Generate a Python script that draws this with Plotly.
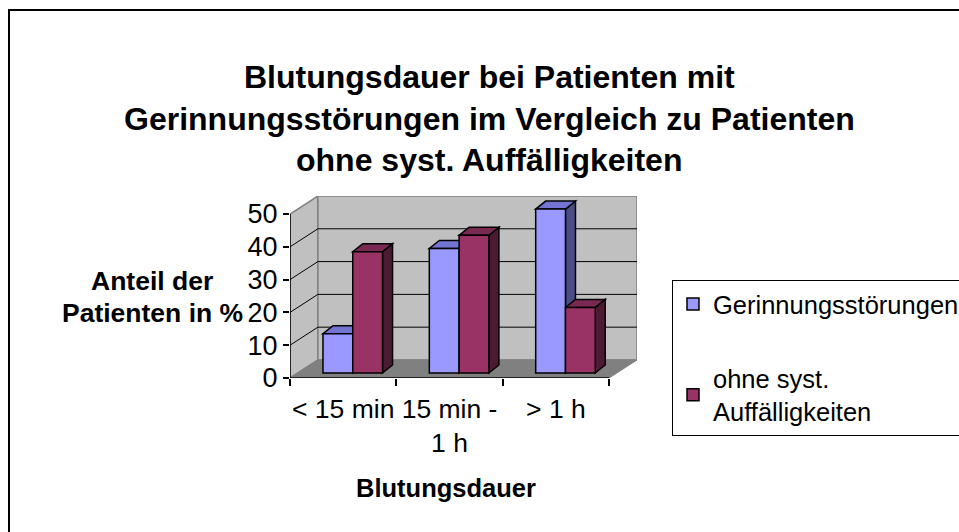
import plotly.graph_objects as go

# ---- data ----
categories = ["< 15 min", "15 min -<br>1 h", "> 1 h"]
series_names = ["Gerinnungsstörungen", "ohne syst.<br>Auffälligkeiten"]
gerinnung = [12, 38, 50]
ohne_syst = [37, 42, 20]
y_ticks = [0, 10, 20, 30, 40, 50]
title_lines = ["Blutungsdauer bei Patienten mit",
               "Gerinnungsstörungen im Vergleich zu Patienten",
               "ohne syst. Auffälligkeiten"]
y_title_lines = ["Anteil der", "Patienten in %"]
x_title = "Blutungsdauer"

# ---- geometry / style ----
W, H = 959, 532
FONT = "Liberation Sans, Arial, sans-serif"
X0, X1 = -0.5, 2.5          # front floor edge (category units)
DX, DY = 0.2625, 5.5        # wall depth offset (data units)
YMAX = 50
BAR_W = 0.28
BX0, BY0 = 0.09, 1.52       # bar front offset into depth
BDX, BDY = 0.094, 2.44      # bar depth
front_col = ["#9999FF", "#993366"]
top_col = ["#7474D2", "#7A2952"]
side_col = ["#4D4D85", "#4D1A33"]
WALL = "#C0C0C0"
FLOOR = "#808080"
EDGE = "#808080"


def path_of(pts, close=True):
    p = "M " + " L ".join(f"{x},{y}" for x, y in pts)
    return p + (" Z" if close else "")


shapes = []
# left wall
shapes.append(dict(type="path", xref="x", yref="y", layer="below",
                   path=path_of([(X0, 0), (X0, YMAX), (X0 + DX, YMAX + DY), (X0 + DX, DY)]),
                   fillcolor=WALL, line=dict(color=EDGE, width=1.5)))
# back wall
shapes.append(dict(type="path", xref="x", yref="y", layer="below",
                   path=path_of([(X0 + DX, DY), (X1 + DX, DY), (X1 + DX, YMAX + DY), (X0 + DX, YMAX + DY)]),
                   fillcolor=WALL, line=dict(color=EDGE, width=1.5)))
# floor
shapes.append(dict(type="path", xref="x", yref="y", layer="below",
                   path=path_of([(X0, 0), (X1, 0), (X1 + DX, DY), (X0 + DX, DY)]),
                   fillcolor=FLOOR, line=dict(color=FLOOR, width=1)))
# gridlines
for v in y_ticks[1:-1]:
    shapes.append(dict(type="path", xref="x", yref="y", layer="below",
                       path=path_of([(X0, v), (X0 + DX, v + DY), (X1 + DX, v + DY)], close=False),
                       line=dict(color="black", width=1)))

# bar top/side faces (blue first, then red for correct overlap)
all_vals = [gerinnung, ohne_syst]
for s, vals in enumerate(all_vals):
    for i, v in enumerate(vals):
        left = i + BX0 - BAR_W + s * BAR_W
        right = left + BAR_W
        top = BY0 + v
        shapes.append(dict(type="path", xref="x", yref="y", layer="below",
                           path=path_of([(right, BY0), (right + BDX, BY0 + BDY),
                                         (right + BDX, top + BDY), (right, top)]),
                           fillcolor=side_col[s], line=dict(color="black", width=1.5)))
        shapes.append(dict(type="path", xref="x", yref="y", layer="below",
                           path=path_of([(left, top), (right, top),
                                         (right + BDX, top + BDY), (left + BDX, top + BDY)]),
                           fillcolor=top_col[s], line=dict(color="black", width=1.5)))

# axis lines (front)
shapes.append(dict(type="line", xref="x", yref="y", x0=X0, y0=0, x1=X1, y1=0,
                   line=dict(color="black", width=1.5)))
shapes.append(dict(type="line", xref="x", yref="y", x0=X0, y0=0, x1=X0, y1=YMAX,
                   line=dict(color="black", width=1.5)))
# outer chart border
shapes.append(dict(type="rect", xref="paper", yref="paper",
                   x0=9 / W, x1=1.2, y0=-0.2, y1=1 - 10 / H,
                   line=dict(color="black", width=2)))

fig = go.Figure()
for s, vals in enumerate(all_vals):
    fig.add_trace(go.Bar(
        x=[i + BX0 - BAR_W + s * BAR_W + BAR_W / 2 for i in range(len(vals))],
        y=vals, base=BY0, width=BAR_W, name=series_names[s],
        legendgroup=f"g{s}",
        marker=dict(color=front_col[s], line=dict(color="black", width=1.5)),
        hoverinfo="skip"))

annotations = []
for t, yc in zip(title_lines, [77, 119, 160]):
    annotations.append(dict(text=f"<b>{t}</b>", xref="paper", yref="paper",
                            x=489 / W, y=1 - yc / H, xanchor="center", yanchor="middle",
                            showarrow=False, font=dict(size=32, family=FONT, color="black")))
for t, yc in zip(y_title_lines, [281, 313]):
    annotations.append(dict(text=f"<b>{t}</b>", xref="paper", yref="paper",
                            x=152 / W, y=1 - yc / H, xanchor="center", yanchor="middle",
                            showarrow=False, font=dict(size=26.5, family=FONT, color="black")))
annotations.append(dict(text=f"<b>{x_title}</b>", xref="paper", yref="paper",
                        x=446 / W, y=1 - 488 / H, xanchor="center", yanchor="middle",
                        showarrow=False, font=dict(size=25.5, family=FONT, color="black")))

fig.update_layout(
    width=W, height=H,
    margin=dict(l=0, r=0, t=0, b=0, autoexpand=False),
    paper_bgcolor="white", plot_bgcolor="rgba(0,0,0,0)",
    font=dict(family=FONT, color="black"),
    barmode="overlay",
    showlegend=True,
    legend=dict(x=672 / W, y=1 - 280 / H, xanchor="left", yanchor="top",
                bordercolor="black", borderwidth=1, bgcolor="white",
                font=dict(size=25.5, family=FONT, color="black"),
                tracegroupgap=38, traceorder="grouped"),
    xaxis=dict(domain=[290 / W, 637 / W], range=[X0, X1 + DX],
               tickvals=list(range(len(categories))), ticktext=categories,
               ticks="", showgrid=False, zeroline=False, showline=False,
               tickfont=dict(size=26.5), automargin=False, fixedrange=True,
               ticklabelstandoff=12,
               minor=dict(tickvals=[X0 + k for k in range(len(categories) + 1)],
                          ticks="outside", ticklen=7, tickcolor="black",
                          tickwidth=1.5, showgrid=False)),
    yaxis=dict(domain=[1 - 378 / H, 1 - 196 / H], range=[0, YMAX + DY],
               tickvals=y_ticks, ticks="outside", ticklen=6, tickcolor="black",
               tickwidth=1.5, showgrid=False, zeroline=False, showline=False,
               tickfont=dict(size=27), automargin=False, fixedrange=True),
    shapes=shapes,
    annotations=annotations,
)

fig.write_html("out.html", config={"displayModeBar": False},
               post_script="document.body.style.margin='0';document.body.style.overflow='hidden';")
